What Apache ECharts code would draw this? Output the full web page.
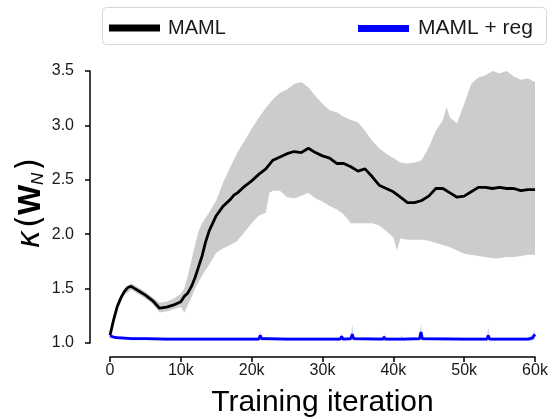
<!DOCTYPE html>
<html>
<head>
<meta charset="utf-8">
<script src="https://cdn.jsdelivr.net/npm/echarts@6/dist/echarts.min.js"></script>
<style>html,body{margin:0;padding:0;background:#fff;}#c{width:554px;height:419px;}</style>
</head>
<body>
<div id="c"></div>
<script>
// ---- data (training iteration in thousands) ----
const xTicks = [0, 10, 20, 30, 40, 50, 60];
const yTicks = [1.0, 1.5, 2.0, 2.5, 3.0, 3.5];

const mamlX = [0,0.5,1,1.5,2,2.5,3,3.5,4,5,6,7,8,9,10,10.5,11,11.5,12,12.5,13,13.5,14,15,16,17,17.5,18,19,20,21,22,23,24,25,26,27,28,29,30,31,32,33,34,35,36,37,38,39,40,41,42,43,44,45,46,47,48,49,50,51,52,53,54,55,56,57,58,59,60];
const mamlMean = [1.07,1.21,1.33,1.41,1.47,1.51,1.52,1.50,1.48,1.44,1.39,1.32,1.33,1.35,1.38,1.43,1.46,1.52,1.60,1.70,1.80,1.93,2.03,2.17,2.26,2.32,2.36,2.38,2.44,2.49,2.55,2.60,2.68,2.71,2.74,2.76,2.75,2.79,2.75,2.72,2.70,2.65,2.65,2.62,2.58,2.60,2.53,2.45,2.42,2.39,2.34,2.29,2.29,2.31,2.35,2.42,2.42,2.38,2.34,2.35,2.39,2.43,2.43,2.42,2.43,2.42,2.42,2.40,2.41,2.41];

const bandUpX = [0,1,2,3,4,5,6,7,8,9,10,10.5,11,11.5,12,12.5,13,14,15,16,17,18,19,20,21,22,23,24,25,26,27,28,29,30,31,32,33,34,35,36,37,38,39,40,41,42,43,44,45,46,47,47.5,48,49,50,51,52,53,54,55,56,57,58,59,60];
const bandUp = [1.09,1.36,1.50,1.55,1.51,1.47,1.42,1.37,1.38,1.41,1.45,1.50,1.62,1.76,1.90,2.03,2.10,2.20,2.31,2.48,2.62,2.75,2.86,2.97,3.07,3.16,3.24,3.30,3.33,3.38,3.40,3.35,3.27,3.20,3.14,3.12,3.08,3.05,3.03,2.95,2.86,2.79,2.74,2.70,2.66,2.65,2.66,2.68,2.80,2.95,3.05,3.17,3.07,3.02,3.20,3.38,3.44,3.46,3.50,3.48,3.50,3.45,3.42,3.43,3.40];
const bandLoX = [0,1,2,3,4,5,6,7,8,9,10,10.5,11,11.5,12,12.5,13,14,15,16,17,18,19,20,21,22,22.5,23,24,25,26,27,28,29,30,31,32,33,34,35,36,37,38,39,40,40.5,41,42,43,44,45,46,47,48,49,50,51,52,53,54,55,56,57,58,59,60];
const bandLo = [1.05,1.30,1.44,1.49,1.45,1.41,1.36,1.28,1.29,1.31,1.33,1.28,1.35,1.42,1.50,1.56,1.62,1.72,1.83,1.87,1.90,1.94,2.02,2.10,2.17,2.20,2.38,2.40,2.40,2.34,2.33,2.35,2.38,2.33,2.30,2.26,2.23,2.18,2.10,2.10,2.10,2.10,2.08,2.03,1.97,1.85,1.96,1.95,1.95,1.95,1.94,1.92,1.90,1.88,1.85,1.82,1.81,1.80,1.79,1.78,1.78,1.79,1.79,1.80,1.81,1.81];

const regX = [0,0.5,1,2,3,5,8,10,15,20,21,21.2,21.4,22,25,30,32.5,32.7,32.9,34,34.2,34.4,38.5,38.7,38.9,41,41.2,41.4,43.7,43.9,44.1,50,53.2,53.4,53.6,59,59.6,60];
const regMean = [1.065,1.055,1.05,1.045,1.04,1.04,1.035,1.035,1.035,1.035,1.035,1.07,1.04,1.04,1.035,1.035,1.035,1.06,1.035,1.04,1.08,1.04,1.035,1.055,1.035,1.035,1.05,1.035,1.04,1.10,1.04,1.035,1.035,1.07,1.035,1.035,1.045,1.08];
const regUp = [1.08,1.07,1.065,1.06,1.055,1.055,1.05,1.05,1.05,1.05,1.05,1.12,1.055,1.055,1.05,1.05,1.05,1.09,1.05,1.055,1.17,1.055,1.05,1.08,1.05,1.05,1.07,1.05,1.055,1.18,1.055,1.05,1.05,1.15,1.05,1.05,1.07,1.12];
const regLo = [1.05,1.04,1.035,1.03,1.025,1.025,1.02,1.02,1.02,1.02,1.02,1.03,1.02,1.02,1.02,1.02,1.02,1.03,1.02,1.02,1.03,1.02,1.02,1.02,1.02,1.02,1.02,1.02,1.02,1.03,1.02,1.02,1.02,1.03,1.02,1.02,1.02,1.03];

const seriesNames = ['MAML', 'MAML + reg'];
const xLabel = 'Training iteration';

// ---- chart ----
const FONT = 'Liberation Sans';
const chart = echarts.init(document.getElementById('c'), null, {renderer: 'canvas'});

function bandSeries(xs, up, xsLo, lo, fill, z) {
  return {
    type: 'custom', silent: true, z: z, clip: true,
    data: [[xs[0], up[0]]],
    renderItem: function (params, api) {
      const pts = [];
      for (let i = 0; i < xs.length; i++) pts.push(api.coord([xs[i], up[i]]));
      for (let i = xsLo.length - 1; i >= 0; i--) pts.push(api.coord([xsLo[i], lo[i]]));
      return {type: 'polygon', shape: {points: pts}, style: {fill: fill, stroke: null}};
    }
  };
}

const option = {
  animation: false,
  textStyle: {fontFamily: FONT},
  grid: {left: 110, right: 19, top: 71, bottom: 76, containLabel: false, outerBoundsMode: 'none'},
  xAxis: {
    type: 'value', min: xTicks[0], max: xTicks[xTicks.length - 1], interval: 10,
    offset: 14,
    splitLine: {show: false},
    axisLine: {onZero: false, lineStyle: {color: '#000', width: 1.5}},
    axisTick: {length: 5, lineStyle: {color: '#000', width: 1.5}},
    axisLabel: {fontFamily: FONT, fontSize: 16, color: '#1a1a1a', margin: 6,
      formatter: v => v === 0 ? '0' : v + 'k'},
    name: xLabel, nameLocation: 'middle', nameGap: 31,
    nameTextStyle: {fontFamily: FONT, fontSize: 30, color: '#000'}
  },
  yAxis: {
    type: 'value', min: yTicks[0], max: yTicks[yTicks.length - 1], interval: 0.5,
    offset: 20,
    splitLine: {show: false},
    axisLine: {show: true, onZero: false, lineStyle: {color: '#000', width: 1.5}},
    axisTick: {show: true, length: 5, lineStyle: {color: '#000', width: 1.5}},
    axisLabel: {fontFamily: FONT, fontSize: 16, color: '#1a1a1a', margin: 16,
      formatter: v => v.toFixed(1)}
  },
  legend: [
    {left: 104, top: 13, data: [seriesNames[0]], icon: 'rect', itemWidth: 51, itemHeight: 7,
     textStyle: {fontFamily: FONT, fontSize: 20, color: '#1a1a1a', padding: [0, 0, 0, 3]}},
    {left: 353, top: 13, data: [seriesNames[1]], icon: 'rect', itemWidth: 51, itemHeight: 7,
     textStyle: {fontFamily: FONT, fontSize: 21, color: '#1a1a1a', padding: [0, 0, 0, 4]}}
  ],
  graphic: [
    {type: 'rect', left: 100, top: 5, shape: {width: 444, height: 37, r: 4},
     style: {fill: 'none', stroke: '#d6d6d6', lineWidth: 1}, z: 10},
    {type: 'text', x: 31, y: 203, rotation: Math.PI / 2,
     style: {
       text: '{k|κ}{p|(}{w|W}{s|N}{p|)}',
       align: 'center', verticalAlign: 'middle',
       rich: {
         k: {fontFamily: 'DejaVu Sans', fontStyle: 'italic', fontSize: 31, fill: '#000', padding: [0, 2, 0, 0]},
         p: {fontFamily: 'DejaVu Sans', fontSize: 33, fill: '#000'},
         w: {fontFamily: FONT, fontWeight: 'bold', fontSize: 32, fill: '#000'},
         s: {fontFamily: FONT, fontStyle: 'italic', fontSize: 17, fill: '#000', padding: [15, 2, 0, 0]}
       }
     }}
  ],
  series: [
    bandSeries(bandUpX, bandUp, bandLoX, bandLo, '#cccccc', 1),
    bandSeries(regX, regUp, regX, regLo, 'rgba(0,0,255,0.2)', 2),
    {name: seriesNames[0], type: 'line', data: mamlX.map((x, i) => [x, mamlMean[i]]),
     showSymbol: false, symbol: 'none', z: 3,
     itemStyle: {color: '#000'}, lineStyle: {color: '#000', width: 2.8}},
    {name: seriesNames[1], type: 'line', data: regX.map((x, i) => [x, regMean[i]]),
     showSymbol: false, symbol: 'none', z: 4,
     itemStyle: {color: '#0000ff'}, lineStyle: {color: '#0000ff', width: 2.8}}
  ]
};
chart.setOption(option);
</script>
</body>
</html>
